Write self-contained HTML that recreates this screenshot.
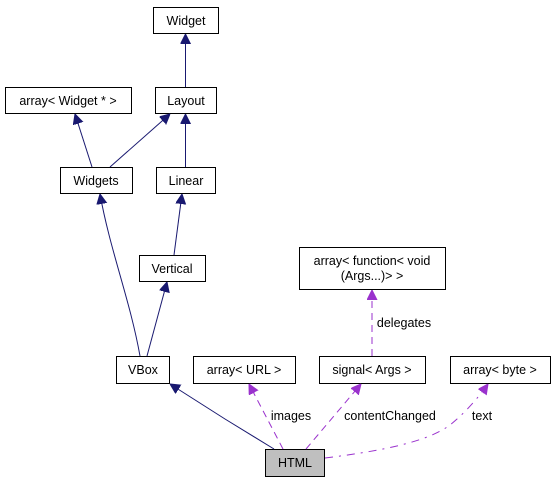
<!DOCTYPE html>
<html><head><style>html,body{margin:0;padding:0;background:#fff}</style></head><body>
<svg width="555" height="483" viewBox="0 0 555 483" xmlns="http://www.w3.org/2000/svg" font-family="Liberation Sans, sans-serif" font-size="12.5">
<defs>
<marker id="an" markerWidth="10" markerHeight="12" refX="10" refY="5" orient="auto" markerUnits="userSpaceOnUse"><path d="M0,0 L10,5 L0,10 z" fill="#191970" stroke="#191970"/></marker>
<marker id="ap" markerWidth="10" markerHeight="12" refX="10" refY="5" orient="auto" markerUnits="userSpaceOnUse"><path d="M0,0 L10,5 L0,10 z" fill="#9a32cd" stroke="#9a32cd"/></marker>
</defs>
<g fill="#fff" stroke="#000" stroke-width="1">
<rect x="153.5" y="7.5" width="65" height="26"/>
<rect x="5.5" y="87.5" width="126" height="26"/>
<rect x="155.5" y="87.5" width="61" height="26"/>
<rect x="60.5" y="167.5" width="72" height="26"/>
<rect x="156.5" y="167.5" width="59" height="26"/>
<rect x="139.5" y="255.5" width="66" height="26"/>
<rect x="299.5" y="247.5" width="146" height="42"/>
<rect x="116.5" y="356.5" width="53" height="27"/>
<rect x="193.5" y="356.5" width="102" height="27"/>
<rect x="319.5" y="356.5" width="106" height="27"/>
<rect x="450.5" y="356.5" width="100" height="27"/>
<rect x="265.5" y="449.5" width="59" height="27" fill="#bfbfbf"/>
</g>
<g fill="none" stroke="#191970" stroke-width="1">
<path d="M185.5,87 L185.5,34" marker-end="url(#an)"/>
<path d="M185.5,167 L185.5,114" marker-end="url(#an)"/>
<path d="M110,167 L170,114" marker-end="url(#an)"/>
<path d="M92,167 L75,114" marker-end="url(#an)"/>
<path d="M174,255 L182,194" marker-end="url(#an)"/>
<path d="M140,356 C130,300 110,250 100,194" marker-end="url(#an)"/>
<path d="M147,356 L167,282" marker-end="url(#an)"/>
<path d="M274,449 L225,419 L170,384" marker-end="url(#an)"/>
</g>
<g fill="none" stroke="#9a32cd" stroke-width="1" stroke-dasharray="7,5">
<path d="M283,449 L249,384" marker-end="url(#ap)"/>
<path d="M306,449 L361,384" marker-end="url(#ap)"/>
<path d="M372,356 L372,290" marker-end="url(#ap)"/>
<path d="M325,458 C390,450 430,440 450,425 C465,413 478,398 488,384" stroke-dasharray="8,6,2,6" marker-end="url(#ap)"/>
</g>
<g fill="#000" text-anchor="middle">
<text x="186" y="25">Widget</text>
<text x="68" y="105">array&lt; Widget * &gt;</text>
<text x="186" y="105">Layout</text>
<text x="96" y="185">Widgets</text>
<text x="186" y="185">Linear</text>
<text x="172" y="273">Vertical</text>
<text x="372" y="265">array&lt; function&lt; void</text>
<text x="372" y="280">(Args...)&gt; &gt;</text>
<text x="143" y="374">VBox</text>
<text x="244" y="374">array&lt; URL &gt;</text>
<text x="372" y="374">signal&lt; Args &gt;</text>
<text x="500" y="374">array&lt; byte &gt;</text>
<text x="295" y="467">HTML</text>
<text x="291" y="420">images</text>
<text x="390" y="420">contentChanged</text>
<text x="404" y="327">delegates</text>
<text x="482" y="420">text</text>
</g>
</svg>
</body></html>
